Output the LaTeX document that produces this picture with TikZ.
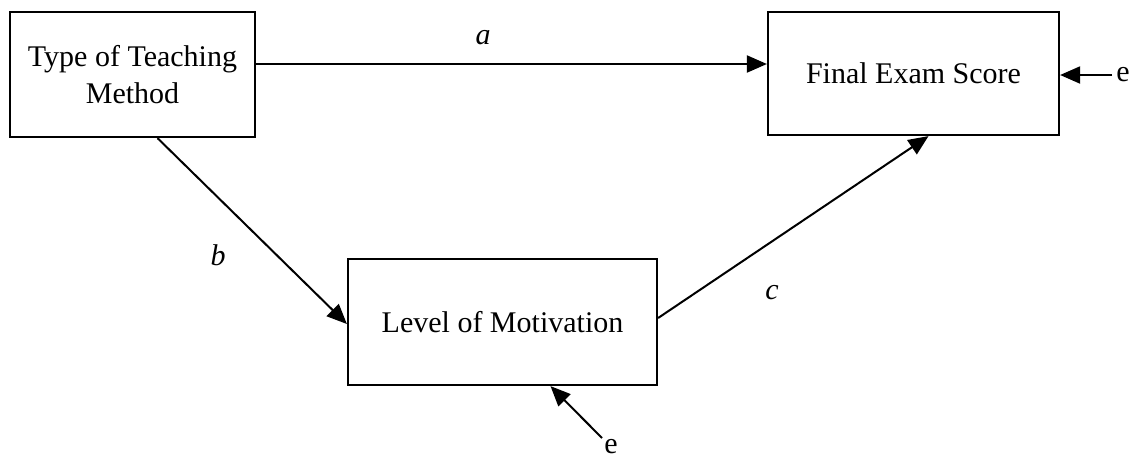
\documentclass[tikz,border=0pt]{standalone}
\usepackage{fontspec}
\setmainfont{Liberation Serif}
\usetikzlibrary{arrows.meta,calc}
\tikzset{
  boxnode/.style={draw=black,line width=2.2pt,rectangle,inner sep=0pt,align=center,
    font=\fontsize{30}{37}\selectfont},
  arr/.style={line width=2pt,-{Triangle[length=20pt,width=17pt]}},
  lbl/.style={font=\fontsize{30}{36}\selectfont\itshape,inner sep=0pt},
  elbl/.style={font=\fontsize{30}{36}\selectfont,inner sep=0pt}
}
\begin{document}
\begin{tikzpicture}[x=1pt,y=1pt]
\useasboundingbox (0,0) rectangle (1135,-459);
\node[boxnode,minimum width=245pt,minimum height=125pt] (tm) at (132.5,-74.5) {Type of Teaching\\Method};
\node[boxnode,minimum width=291pt,minimum height=123pt] (fe) at (913.5,-73.5) {Final Exam Score};
\node[boxnode,minimum width=309pt,minimum height=126pt] (lm) at (502.5,-322) {Level of Motivation};
\coordinate (ay) at (0,-64);
\draw[arr] (tm.east |- ay) -- (fe.west |- ay);
\node[lbl] (la) at (483,-38) {a};
\draw[arr] ($(tm.south)+(25,0)$) -- ($(lm.west)+(0,-2)$);
\node[lbl] (lb) at (218,-255) {b};
\draw[arr] ($(lm.east)+(0,4)$) -- ($(fe.south)+(15,0)$);
\node[lbl] (lc) at (772,-293) {c};
\node[elbl] (e1) at (1123,-75) {e};
\draw[arr] ($(e1.west)+(-4,0)$) -- (fe.east |- e1);
\node[elbl] (e2) at (611,-447) {e};
\coordinate (t2) at (602,-438);
\draw[arr] (t2) -- ($(lm.south)+(48,0)$);
\end{tikzpicture}
\end{document}
